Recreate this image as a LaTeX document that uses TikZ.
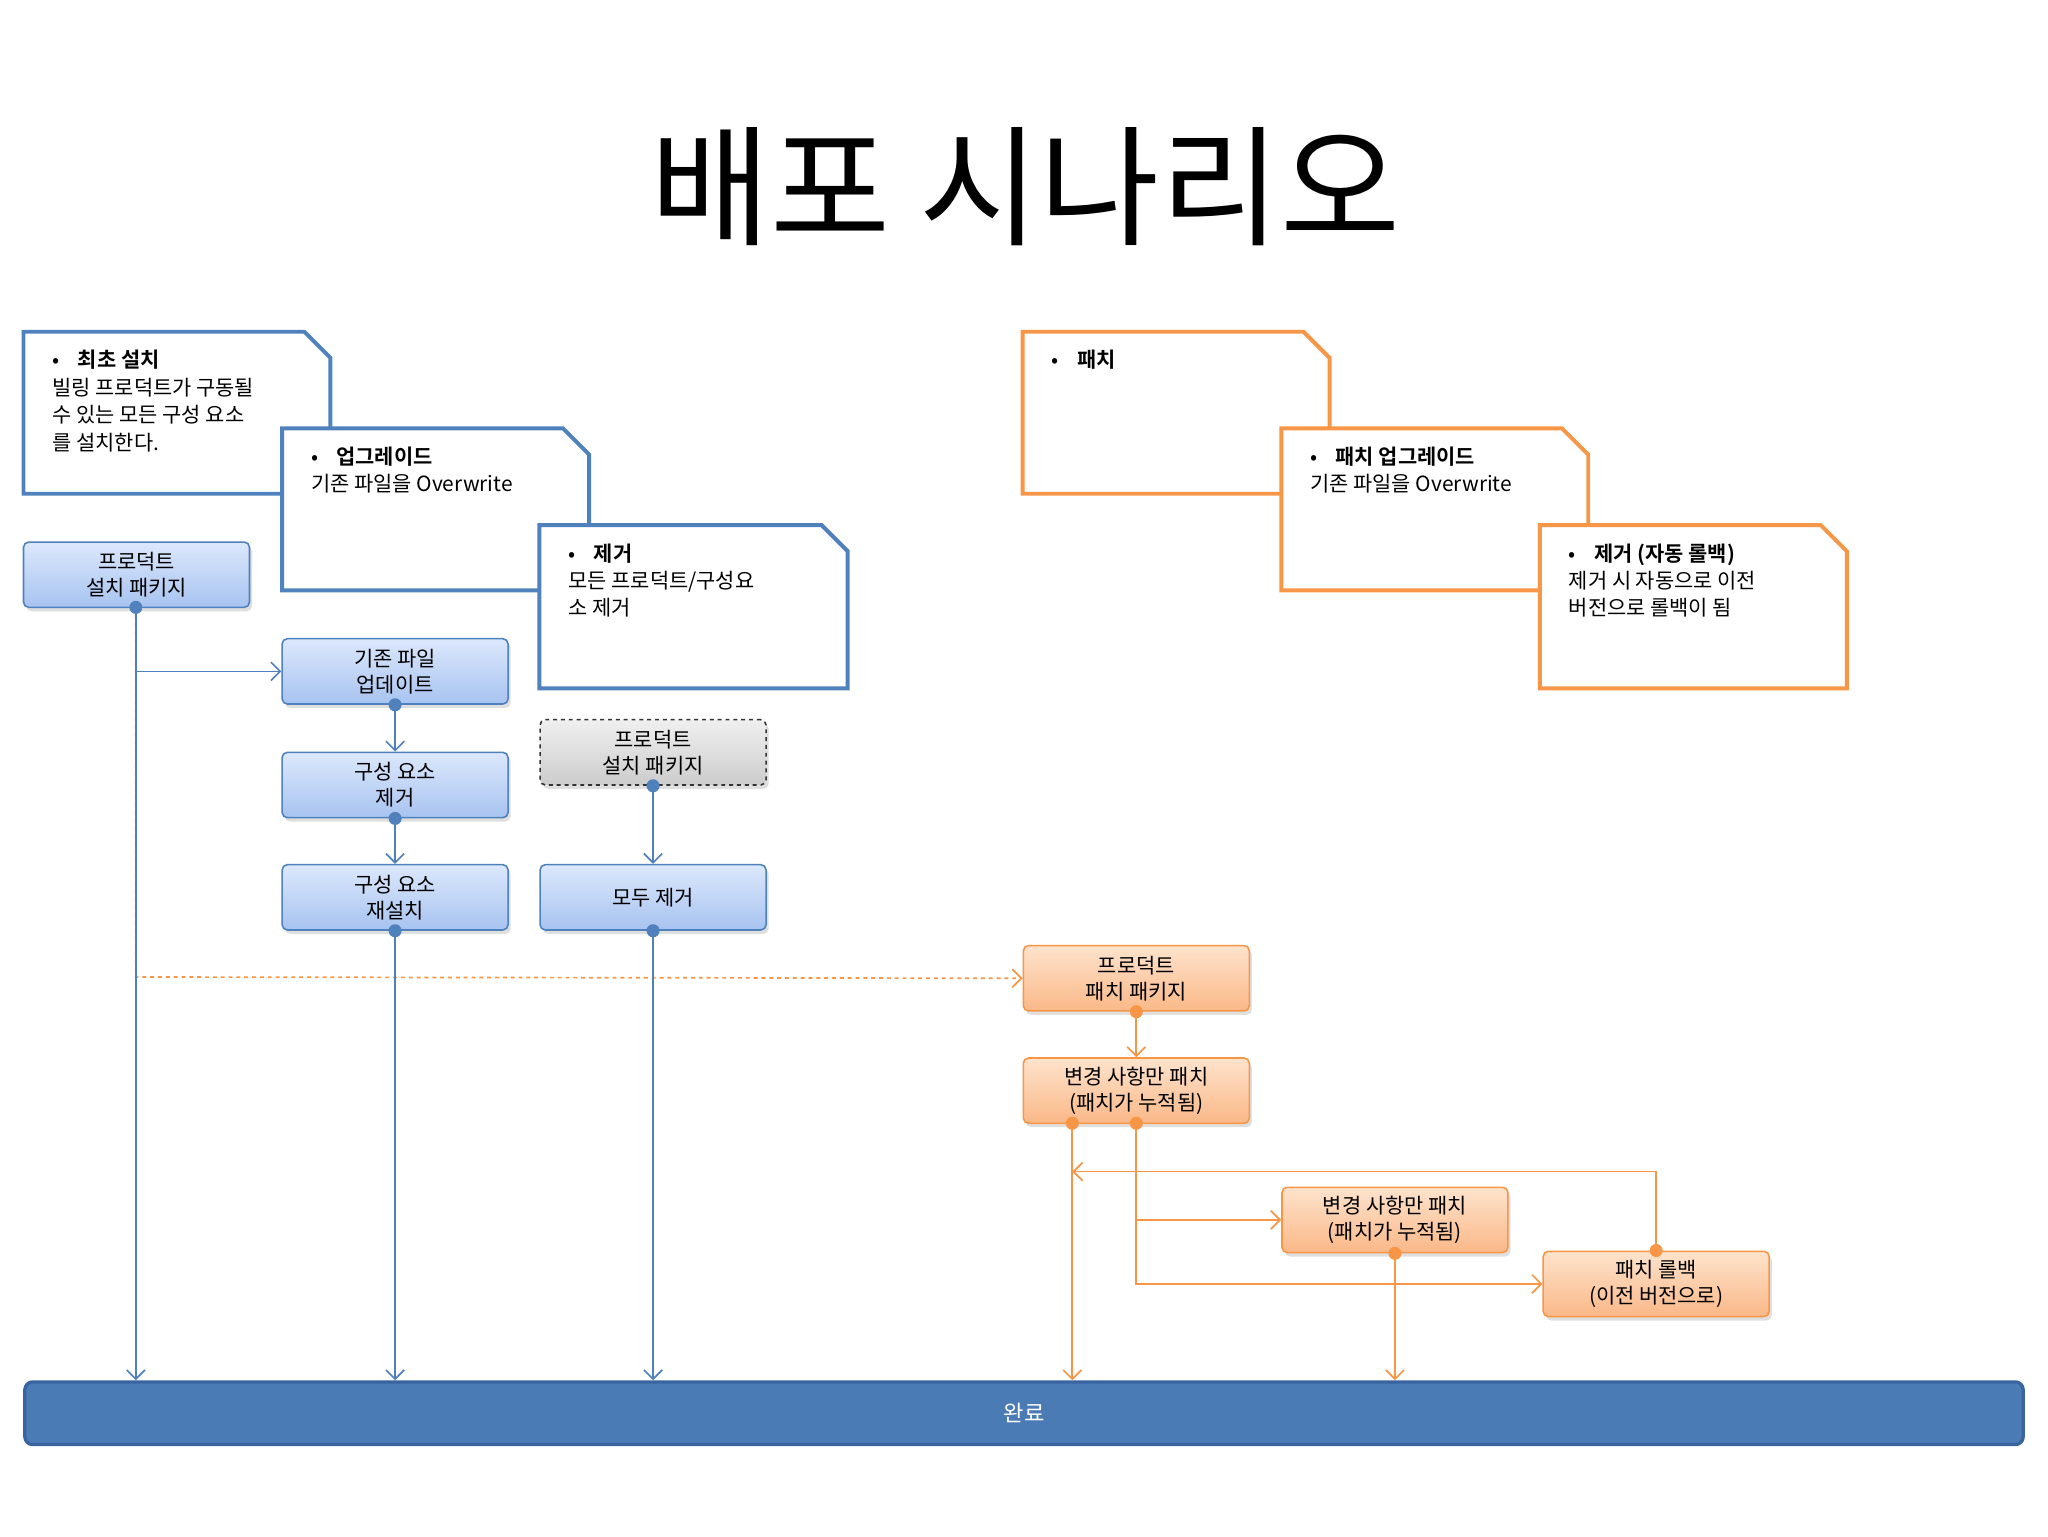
\documentclass[tikz,border=0pt]{standalone}
\usepackage{fontspec}
\setmainfont{Noto Sans CJK KR}[BoldFont={Noto Sans CJK KR Bold}]
\usetikzlibrary{arrows.meta,shadows}
\definecolor{bl}{HTML}{4F81BD}
\definecolor{bld}{HTML}{3A64A0}
\definecolor{og}{HTML}{F79646}
\definecolor{bltop}{HTML}{DCE8FC}
\definecolor{blbot}{HTML}{A7C3F0}
\definecolor{ogtop}{HTML}{FEE3CC}
\definecolor{ogbot}{HTML}{FAB888}
\tikzset{
 note/.style={line width=3pt,fill=white},
 notetext/.style={anchor=north west,align=left,inner sep=0pt,font=\fontsize{16}{21}\selectfont},
 box/.style={rounded corners=4pt,minimum width=173pt,minimum height=50pt,align=center,inner sep=1pt,
   font=\fontsize{16}{20}\selectfont,drop shadow={shadow xshift=2pt,shadow yshift=-3pt,opacity=0.25}},
 bbox/.style={box,draw=bl,line width=1.2pt,top color=bltop,bottom color=blbot},
 obox/.style={box,draw=og,line width=1.2pt,top color=ogtop,bottom color=ogbot},
 gbox/.style={box,draw=black!80,dashed,line width=1.2pt,top color=gray!12,bottom color=gray!40},
 arr/.style={line width=1.3pt,-{Straight Barb[length=7pt,width=14pt]}},
 bline/.style={arr,bl},
 oline/.style={arr,og},
 bdot/.style={circle,fill=bl,inner sep=0pt,minimum size=10pt},
 odot/.style={circle,fill=og,inner sep=0pt,minimum size=10pt},
}
\begin{document}
\begin{tikzpicture}[x=1pt,y=-1pt]
\useasboundingbox (0,0) rectangle (1568,1176);
\node[font=\fontsize{100}{100}\selectfont] (title) at (785,143) {배포 시나리오};
% notes
\newcommand\notebox[5]{\draw[note,#5] (#1,#2) -- (#3-20,#2) -- (#3,#2+20) -- (#3,#4) -- (#1,#4) -- cycle;}
\notebox{18}{254}{253}{378}{draw=bl}
\node[notetext] (n1) at (40,268) {•\hspace{14pt}\textbf{최초 설치}\\빌링 프로덕트가 구동될\\수 있는 모든 구성 요소\\를 설치한다.};
\notebox{216}{328}{451}{452}{draw=bl}
\node[notetext] (n2) at (238,342) {•\hspace{14pt}\textbf{업그레이드}\\기존 파일을 Overwrite};
\notebox{413}{402}{649}{527}{draw=bl}
\node[notetext] (n3) at (435,416) {•\hspace{14pt}\textbf{제거}\\모든 프로덕트/구성요\\소 제거};
\notebox{783}{254}{1018}{378}{draw=og}
\node[notetext] (n4) at (805,268) {•\hspace{14pt}\textbf{패치}};
\notebox{981}{328}{1216}{452}{draw=og}
\node[notetext] (n5) at (1003,342) {•\hspace{14pt}\textbf{패치 업그레이드}\\기존 파일을 Overwrite};
\notebox{1179}{402}{1414}{527}{draw=og}
\node[notetext] (n6) at (1201,416) {•\hspace{14pt}\textbf{제거 (자동 롤백)}\\제거 시 자동으로 이전\\버전으로 롤백이 됨};
% bar
\node[draw=bld,fill=bl!95!black,line width=2.5pt,rounded corners=6pt,minimum width=1530pt,minimum height=48pt,
 text=white,font=\fontsize{17}{20}\selectfont] (done) at (784,1082) {완료};
% boxes
\node[bbox] (A) at (104.5,440) {프로덕트\\설치 패키지};
\node[bbox] (B) at (302.5,514) {기존 파일\\업데이트};
\node[bbox] (C) at (302.5,601) {구성 요소\\제거};
\node[bbox] (D) at (302.5,687) {구성 요소\\재설치};
\node[gbox] (E) at (500,576) {프로덕트\\설치 패키지};
\node[bbox] (F) at (500,687) {모두 제거};
\node[obox] (G) at (870,749) {프로덕트\\패치 패키지};
\node[obox] (H) at (870,835) {변경 사항만 패치\\(패치가 누적됨)};
\node[obox] (I) at (1068,934) {변경 사항만 패치\\(패치가 누적됨)};
\node[obox] (J) at (1268,983) {패치 롤백\\(이전 버전으로)};
% connectors
\coordinate (ad) at (104,465);
\coordinate (a1) at (104,748);
\draw[oline,dashed] (ad) -- (a1) -- (G.west);
\draw[bline] (ad) -- (ad |- done.north);
\draw[bline] (ad |- B.west) -- (B.west);
\draw[bline] (B.south) -- (C.north);
\draw[bline] (C.south) -- (D.north);
\draw[bline] (D.south) -- (D.south |- done.north);
\draw[bline] (E.south) -- (F.north);
\draw[bline] (F.south) -- (F.south |- done.north);
\draw[oline] (G.south) -- (H.north);
\coordinate (h1) at (821,860);
\coordinate (h2) at (870,860);
\draw[oline] (h1) -- (h1 |- done.north);
\draw[oline] (h2) -- (h2 |- J.west) -- (J.west);
\draw[oline] (h2 |- I.west) -- (I.west);
\draw[oline] (I.south) -- (I.south |- done.north);
\coordinate (j1) at (1268,897);
\draw[oline] (J.north) -- (j1) -- (h1 |- j1);
% dots
\node[bdot] at (ad) {};
\node[bdot] at (B.south) {};
\node[bdot] at (C.south) {};
\node[bdot] at (D.south) {};
\node[bdot] at (E.south) {};
\node[bdot] at (F.south) {};
\node[odot] at (G.south) {};
\node[odot] at (h1) {};
\node[odot] at (h2) {};
\node[odot] at (I.south) {};
\node[odot] at (J.north) {};
\end{tikzpicture}
\end{document}
